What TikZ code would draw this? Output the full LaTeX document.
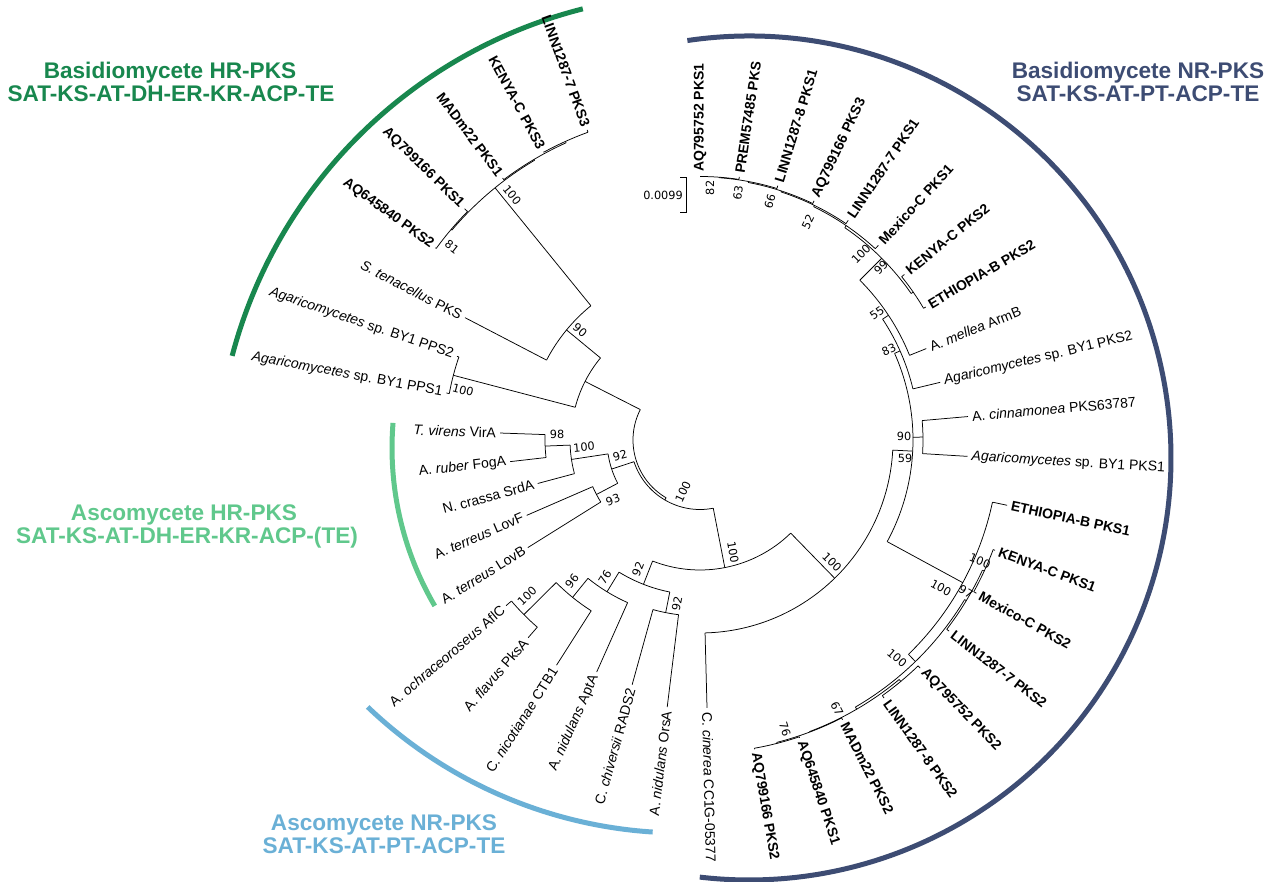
\documentclass[tikz,border=0pt]{standalone}
\usepackage{fontspec}
\setmainfont{Liberation Sans}
\newfontfamily\bsfont{DejaVu Sans}
\definecolor{hrb}{RGB}{24,135,78}
\definecolor{nrb}{RGB}{61,76,115}
\definecolor{hra}{RGB}{96,200,140}
\definecolor{nra}{RGB}{106,176,214}
\tikzset{
  br/.style={line width=0.75pt, black},
  lab/.style={font=\fontsize{14}{16}\selectfont, inner sep=0pt},
  bs/.style={font=\bsfont\fontsize{11.3}{13}\selectfont, inner sep=0pt},
  head/.style={font=\fontsize{22.6}{25}\selectfont\bfseries, anchor=base, inner sep=0pt},
  cladearc/.style={line width=5pt}
}
\newcommand\RL[3]{\draw[br] (#1:#2) -- (#1:#3);}
\newcommand\AL[3]{\draw[br] (#1:#3) arc[start angle=#1,end angle=#2,radius=#3];}
\newcommand\LR[5]{\RL{#1}{#2}{#3}\path (#1:#3) ++(#1:4) node[lab,anchor=west,rotate=#1] (#4) {#5};}
\newcommand\LL[5]{\RL{#1}{#2}{#3}\path (#1:#3) ++(#1:4) node[lab,anchor=east,rotate=#1-180] (#4) {#5};}
\begin{document}
\begin{tikzpicture}[x=1pt,y=1pt]
\useasboundingbox (0,0) rectangle (1283,-882);
\fill[white] (0,0) rectangle (1283,-882);

% clade arcs
\draw[cladearc,hrb,shift={(702,-480)}] (104.2:486) arc[start angle=104.2,end angle=165.2,radius=486];
\draw[cladearc,nrb,shift={(749,-458)}] (98.4:422) arc[start angle=98.4,end angle=-96.7,radius=422];
\draw[cladearc,hra,shift={(705,-448)}] (175.4:313) arc[start angle=175.4,end angle=210.3,radius=313];
\draw[cladearc,nra,shift={(682,-378)}] (226.3:455) arc[start angle=226.3,end angle=266.3,radius=455];

% headings
\node[head,text=hrb] (h1a) at (170,-79) {Basidiomycete HR-PKS};
\node[head,text=hrb] (h1b) at (171,-101.5) {SAT-KS-AT-DH-ER-KR-ACP-TE};
\node[head,text=nrb] (h2a) at (1138,-79) {Basidiomycete NR-PKS};
\node[head,text=nrb] (h2b) at (1138,-101.5) {SAT-KS-AT-PT-ACP-TE};
\node[head,text=hra] (h3a) at (184,-520) {Ascomycete HR-PKS};
\node[head,text=hra] (h3b) at (187,-543) {SAT-KS-AT-DH-ER-KR-ACP-(TE)};
\node[head,text=nra] (h4a) at (384,-830) {Ascomycete NR-PKS};
\node[head,text=nra] (h4b) at (384,-853) {SAT-KS-AT-PT-ACP-TE};

\begin{scope}[shift={(700,-440)}]
% root and inner nodes
\AL{153}{239.6}{67}
\RL{239.6}{67}{69.5} \AL{198.2}{281}{69.5}
% Basidiomycete HR
\RL{153}{67}{129} \AL{140.5}{165.3}{129}
\RL{140.5}{129}{173} \AL{129.1}{152.5}{173}
\RL{165.3}{129}{255} \AL{161}{169.5}{255}
\RL{129.1}{173}{325} \AL{120.6}{139.75}{325}
\RL{139.75}{325}{326} \AL{135.5}{144}{326}
\RL{120.6}{325}{326} \AL{114.25}{127}{326}
\RL{114.25}{326}{327.5} \AL{110}{118.5}{327.5}
\LL{169.5}{255}{258}{l34}{\textit{Agaricomycetes} sp. BY1 PPS1}
\LL{161}{255}{257}{l35}{\textit{Agaricomycetes} sp. BY1 PPS2}
\LL{152.5}{173}{265}{l36}{\textit{S. tenacellus} PKS}
\LL{144}{326}{327}{l37}{\textbf{AQ645840 PKS2}}
\LL{135.5}{326}{330}{l38}{\textbf{AQ799166 PKS1}}
\LL{127}{326}{328}{l39}{\textbf{MADm22 PKS1}}
\LL{118.5}{327.5}{328}{l40}{\textbf{KENYA-C PKS3}}
\LL{110}{327.5}{330}{l41}{\textbf{LINN1287-7 PKS3}}
% Ascomycete HR
\RL{198.2}{69.5}{93} \AL{188.6}{207.75}{93}
\RL{188.6}{93}{130} \AL{182.25}{195}{130}
\RL{182.25}{130}{155} \AL{178}{186.5}{155}
\RL{207.75}{93}{117} \AL{203.5}{212}{117}
\LL{212}{117}{203}{l29}{A. \textit{terreus} LovB}
\LL{203.5}{117}{189}{l30}{A. \textit{terreus} LovF}
\LL{195}{130}{168}{l31}{N. crassa SrdA}
\LL{186.5}{155}{191}{l32}{A. \textit{ruber} FogA}
\LL{178}{155}{200}{l33}{\textit{T. virens} VirA}
% N_big
\RL{281}{69.5}{130} \AL{248.6}{314.25}{130}
% Ascomycete NR
\RL{248.6}{130}{155} \AL{238.5}{258.75}{155}
\RL{258.75}{155}{176} \AL{254.5}{263}{176}
\RL{238.5}{155}{178} \AL{231}{246}{178}
\RL{231}{178}{202.5} \AL{224.75}{237.5}{202.5}
\RL{224.75}{202.5}{248} \AL{220.5}{229}{248}
\LL{263}{176}{269}{l23}{A. \textit{nidulans} OrsA}
\LL{254.5}{176}{254}{l24}{C. \textit{chiversii} RADS2}
\LL{246}{178}{254}{l25}{A. \textit{nidulans} AptA}
\LL{237.5}{202.5}{267}{l26}{C. \textit{nicotianae} CTB1}
\LL{229}{248}{262}{l27}{A. \textit{flavus} PksA}
\LL{220.5}{248}{255}{l28}{A. \textit{ochraceoroseus} AflC}
% Basidiomycete NR
\RL{-45.75}{130}{193} \AL{-88.5}{-3}{193}
\LR{-88.5}{193}{268}{l22}{C. \textit{cinerea} CC1G-05377}
\RL{-3}{193}{213} \AL{-28.5}{24}{213}
\RL{0.75}{213}{223} \AL{-3.5}{5}{223}
\LR{5}{223}{269}{l11}{A. \textit{cinnamonea} PKS63787}
\LR{-3.5}{223}{268}{l12}{\textit{Agaricomycetes} sp. BY1 PKS1}
\RL{24}{213}{219} \AL{13.5}{33.5}{219}
\LR{13.5}{219}{247}{l10}{\textit{Agaricomycetes} sp. BY1 PKS2}
\RL{33.5}{219}{226} \AL{22}{45}{226}
\LR{22}{226}{244}{l9}{A. \textit{mellea} ArmB}
\RL{45}{226}{257} \AL{34.75}{55.7}{257}
\RL{34.75}{257}{259.5} \AL{30.5}{39}{259.5}
\RL{55.7}{257}{259.5} \AL{47.5}{64}{259.5}
\RL{64}{259.5}{261} \AL{56}{71.9}{261}
\RL{71.9}{261}{262} \AL{64.5}{79.4}{262}
\RL{79.4}{262}{263} \AL{73}{85.75}{263}
\RL{85.75}{263}{263.5} \AL{81.5}{90}{263.5}
\LR{90}{263.5}{264}{l1}{\textbf{AQ795752 PKS1}}
\LR{81.5}{263.5}{266}{l2}{\textbf{PREM57485 PKS}}
\LR{73}{263}{266}{l3}{\textbf{LINN1287-8 PKS1}}
\LR{64.5}{262}{265}{l4}{\textbf{AQ799166 PKS3}}
\LR{56}{261}{265}{l5}{\textbf{LINN1287-7 PKS1}}
\LR{47.5}{259.5}{264}{l6}{\textbf{Mexico-C PKS1}}
\LR{39}{259.5}{263}{l7}{\textbf{KENYA-C PKS2}}
\LR{30.5}{259.5}{262}{l8}{\textbf{ETHIOPIA-B PKS2}}
% lower Basidiomycete NR
\RL{-28.5}{213}{299} \AL{-45.8}{-12}{299}
\LR{-12}{299}{314}{l13}{\textbf{ETHIOPIA-B PKS1}}
\RL{-45.8}{299}{309} \AL{-59.8}{-31.1}{309}
\RL{-31.1}{309}{311} \AL{-37.5}{-24.75}{311}
\RL{-24.75}{311}{313} \AL{-29}{-20.5}{313}
\RL{-59.8}{309}{311.5} \AL{-69.4}{-50.25}{311.5}
\RL{-50.25}{311.5}{314} \AL{-54.5}{-46}{314}
\RL{-69.4}{311.5}{312} \AL{-75.75}{-63}{312}
\RL{-75.75}{312}{313} \AL{-80}{-71.5}{313}
\LR{-20.5}{313}{315}{l14}{\textbf{KENYA-C PKS1}}
\LR{-29}{313}{316}{l15}{\textbf{Mexico-C PKS2}}
\LR{-37.5}{311}{314}{l16}{\textbf{LINN1287-7 PKS2}}
\LR{-46}{314}{317}{l17}{\textbf{AQ795752 PKS2}}
\LR{-54.5}{314}{317}{l18}{\textbf{LINN1287-8 PKS2}}
\LR{-63}{312}{314}{l19}{\textbf{MADm22 PKS2}}
\LR{-71.5}{313}{314}{l20}{\textbf{AQ645840 PKS1}}
\LR{-80}{313}{314}{l21}{\textbf{AQ799166 PKS2}}
\end{scope}

% scale bar
\draw[br] (680,-177) -- (686,-177) -- (686,-212) -- (680,-212);
\node[bs,anchor=east] (sc) at (683,-195) {0.0099};

% bootstrap values
\node[bs,rotate=90] (b1) at (710,-188) {82};
\node[bs,rotate=82] (b2) at (738,-193) {63};
\node[bs,rotate=74] (b3) at (770,-201) {66};
\node[bs,rotate=64] (b4) at (808,-222) {52};
\node[bs,rotate=45] (b5) at (861,-254) {100};
\node[bs,rotate=45] (b6) at (881,-268) {99};
\node[bs,rotate=35] (b7) at (877,-313) {55};
\node[bs,rotate=25] (b8) at (889,-350) {83};
\node[bs] (b9) at (904,-436) {90};
\node[bs] (b10) at (905,-458) {59};
\node[bs,rotate=-28] (b11) at (941,-588) {100};
\node[bs,rotate=-30] (b12) at (966,-592) {97};
\node[bs,rotate=-22] (b13) at (980,-561) {100};
\node[bs,rotate=-40] (b14) at (897,-658) {100};
\node[bs,rotate=-63] (b15) at (837,-709) {67};
\node[bs,rotate=-73] (b16) at (785,-729) {76};
\node[bs,rotate=65] (b17) at (683,-492) {100};
\node[bs,rotate=-80] (b18) at (733,-552) {100};
\node[bs,rotate=-45] (b19) at (832,-562) {100};
\node[bs,rotate=-15] (b20) at (463,-390) {100};
\node[bs,rotate=-40] (b21) at (580,-330) {90};
\node[bs,rotate=-51] (b22) at (512,-195) {100};
\node[bs,rotate=-38] (b23) at (452,-247) {81};
\node[bs] (b24) at (557,-434) {98};
\node[bs,rotate=5] (b25) at (584,-447) {100};
\node[bs,rotate=15] (b26) at (620,-456) {92};
\node[bs,rotate=20] (b27) at (613,-500) {93};
\node[bs,rotate=44] (b28) at (527,-596) {100};
\node[bs,rotate=51] (b29) at (572,-581) {96};
\node[bs,rotate=58] (b30) at (605,-577) {76};
\node[bs,rotate=68] (b31) at (638,-569) {92};
\node[bs,rotate=79] (b32) at (677,-604) {92};
\end{tikzpicture}
\end{document}
